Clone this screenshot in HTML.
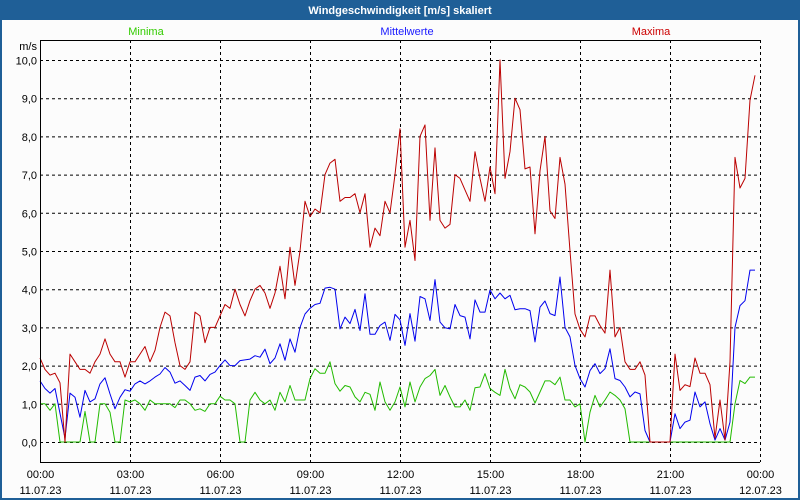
<!DOCTYPE html>
<html><head><meta charset="utf-8"><style>
html,body{margin:0;padding:0;width:800px;height:500px;overflow:hidden;background:#fff;}
svg text{font-family:"Liberation Sans",sans-serif;font-size:11px;}
</style></head><body>
<svg id="chart" width="800" height="500" viewBox="0 0 800 500" xmlns="http://www.w3.org/2000/svg">
<rect x="0" y="0" width="800" height="500" fill="#1f5f97"/>
<rect x="2" y="20" width="796" height="478" fill="#fcfcfc"/>
<text x="400" y="14" text-anchor="middle" fill="#fff" font-weight="bold">Windgeschwindigkeit [m/s] skaliert</text>
<text x="146" y="35" text-anchor="middle" fill="#33cc00">Minima</text>
<text x="407" y="35" text-anchor="middle" fill="#1a1aff">Mittelwerte</text>
<text x="651" y="35" text-anchor="middle" fill="#cc0000">Maxima</text>
<text x="37" y="50" text-anchor="end" fill="#000">m/s</text>
<g id="grid"></g>
<g id="series"></g>
<g id="axes"></g>
</svg>
<script>
const yTicks=[0,1,2,3,4,5,6,7,8,9,10];
const xTickLabels=["00:00","03:00","06:00","09:00","12:00","15:00","18:00","21:00","00:00"];
const xTickDates=["11.07.23","11.07.23","11.07.23","11.07.23","11.07.23","11.07.23","11.07.23","11.07.23","12.07.23"];
const maxima=[2.2,1.9,1.75,1.8,1.55,0,2.3,2.1,1.9,1.9,1.8,2.1,2.3,2.7,2.3,2.1,2.1,1.7,2.1,2.1,2.3,2.5,2.1,2.4,3.0,3.4,3.3,2.6,2.0,1.9,2.1,3.4,3.3,2.6,3.0,3.0,3.3,3.6,3.5,4.0,3.6,3.3,3.7,4.0,4.1,3.9,3.5,3.9,4.6,3.75,5.1,
4.1,5.0,6.3,5.9,6.1,6.0,7.0,7.3,7.4,6.3,6.4,6.4,6.5,6.0,6.5,5.1,5.6,5.4,6.3,6.0,7.0,8.2,5.1,5.8,4.75,8.0,8.3,5.8,7.7,5.8,5.6,5.7,7.0,6.9,6.6,6.3,7.6,6.9,6.3,7.2,6.5,10.0,6.9,7.6,9.0,8.7,
7.15,7.2,5.45,7.1,8.0,6.05,5.85,7.45,6.75,5.0,3.35,2.95,2.75,3.3,3.3,3.05,2.85,4.5,2.75,3.0,2.1,1.9,1.9,2.1,1.75,0,0,0,0,0,2.3,1.35,1.5,1.45,2.2,1.8,1.8,1.5,0.1,1.1,0.05,2.1,7.45,6.65,6.9,8.95,9.6];
const mittelwerte=[1.6,1.4,1.28,1.4,0.75,0.1,1.28,1.17,0.65,1.35,1.05,1.13,1.52,1.68,1.26,0.87,1.17,1.37,1.33,1.52,1.6,1.52,1.6,1.7,1.78,1.95,1.83,1.54,1.6,1.48,1.35,1.7,1.74,1.6,1.77,1.83,2.0,2.15,2.0,2.0,2.13,2.15,2.17,2.26,2.22,2.43,2.05,2.2,2.57,2.14,2.7,
2.35,3.0,3.35,3.5,3.6,3.63,4.03,4.05,4.0,2.96,3.27,3.1,3.47,2.92,3.88,2.82,2.82,3.05,3.14,2.66,3.34,3.2,2.53,3.36,2.64,3.81,3.75,3.18,4.25,3.14,2.99,2.96,3.6,3.31,3.27,2.7,3.72,3.4,3.4,3.98,3.75,3.9,3.75,3.84,3.46,3.49,
3.49,3.44,2.62,3.53,3.69,3.36,3.31,4.32,3.0,2.75,2.0,1.66,1.44,1.87,2.05,1.79,1.92,2.44,1.66,1.61,1.44,1.18,1.31,1.26,0.3,0,0,0,0,0,0.74,0.35,0.52,0.57,1.31,0.92,1.05,0.48,0.05,0.35,0.05,0.52,3.0,3.57,3.7,4.5,4.5];
const minima=[1.0,1.0,0.83,1.0,0,0,0,0,0,0.8,0,0,1.0,1.0,0.78,0,0,1.1,1.05,1.1,1.0,0.83,1.1,1.0,1.0,1.0,1.0,0.9,1.1,1.1,1.0,0.83,0.87,0.8,1.0,1.0,1.2,1.1,1.1,1.0,0,0,1.1,1.3,1.1,1.0,1.1,0.83,1.3,1.05,1.48,
1.1,1.1,1.1,1.66,1.92,1.8,1.8,2.1,1.53,1.33,1.48,1.44,1.18,1.05,1.3,1.25,0.83,1.57,1.05,0.83,1.05,1.44,0.92,1.57,1.05,1.44,1.66,1.74,1.9,1.22,1.48,1.18,0.92,0.92,1.1,0.83,1.42,1.44,1.79,1.4,1.3,1.22,1.9,1.4,1.13,1.5,
1.44,1.31,1.02,1.31,1.6,1.6,1.5,1.7,1.1,1.1,0.92,1.0,0,0.78,1.22,0.92,1.1,1.31,1.22,1.1,0.87,0,0,0,0,0,0,0,0,0,0,0,0,0,0,0,0,0,0,0,0,0,1.0,1.61,1.53,1.7,1.7];

const NS="http://www.w3.org/2000/svg";
const X0=40,X1=760,YT=40,YB=462;
function yScale(v){return 442-v*38.2;}
function xScale(i){return X0+i*(X1-X0)/144;}
function xHour(k){return X0+k*(X1-X0)/(xTickLabels.length-1);}
function mk(tag,attrs,parent){const e=document.createElementNS(NS,tag);for(const k in attrs)e.setAttribute(k,attrs[k]);parent.appendChild(e);return e;}
const gridG=document.getElementById('grid'),axesG=document.getElementById('axes'),serG=document.getElementById('series');
yTicks.forEach(v=>{
  const y=yScale(v)+0.5;
  const l=mk('line',{x1:X0,x2:X1,y1:y,y2:y,stroke:'#000','stroke-dasharray':'3,3','stroke-width':1},gridG);
  
  
  const t=mk('text',{x:37,y:y+4,'text-anchor':'end',fill:'#000'},axesG);
  t.textContent=v.toFixed(1).replace('.',',');
  
  
});
xTickLabels.forEach((lab,k)=>{
  const x=Math.round(xHour(k))+0.5;
  if(k>0){const l=mk('line',{x1:x,x2:x,y1:YT,y2:YB,stroke:'#000','stroke-dasharray':'3,3','stroke-width':1},gridG);
  
  }
  const t=mk('text',{x:x,y:478,'text-anchor':'middle',fill:'#000'},axesG);
  t.textContent=lab;
  
  
  const d=mk('text',{x:x,y:494,'text-anchor':'middle',fill:'#000'},axesG);
  d.textContent=xTickDates[k];
  
  
});
const topBorder=mk('line',{x1:X0,x2:X1,y1:YT+0.5,y2:YT+0.5,stroke:'#000'},axesG);


const leftAxis=mk('line',{x1:X0+0.5,x2:X0+0.5,y1:YT,y2:YB,stroke:'#000'},axesG);


const bottomAxis=mk('line',{x1:X0,x2:X1,y1:YB+0.5,y2:YB+0.5,stroke:'#000'},axesG);


function drawSeries(arr,color,name){
  const pts=arr.map((v,i)=>xScale(i).toFixed(1)+','+yScale(v).toFixed(1)).join(' ');
  const p=mk('polyline',{points:pts,fill:'none',stroke:color,'stroke-width':1,'stroke-linejoin':'round'},serG);
  
  
}
drawSeries(minima,'#22bb00','minima-line');
drawSeries(mittelwerte,'#0000ee','mittelwerte-line');
drawSeries(maxima,'#bb0000','maxima-line');
</script>
</body></html>
